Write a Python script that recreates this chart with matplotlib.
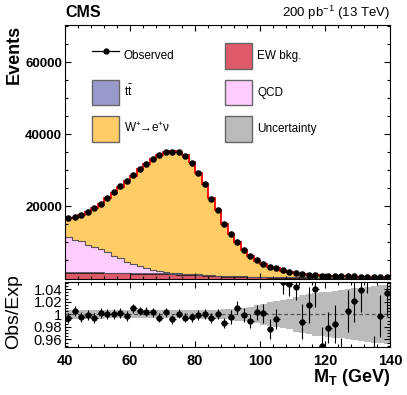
import numpy as np
import matplotlib
matplotlib.use('Agg')
from matplotlib import pyplot as plt
from matplotlib.ticker import MultipleLocator, FixedLocator, FixedFormatter
from matplotlib.patches import Patch
from matplotlib.lines import Line2D

plt.rcParams['font.family'] = ['Liberation Sans', 'DejaVu Sans']
plt.rcParams['mathtext.fontset'] = 'custom'
plt.rcParams['mathtext.rm'] = 'Liberation Sans'
plt.rcParams['mathtext.it'] = 'Liberation Sans:italic'
plt.rcParams['mathtext.bf'] = 'Liberation Sans:bold'

## ---- data (2 GeV bins, 40-140 GeV) ----
edges = np.arange(40, 142, 2)
centers = np.arange(41, 140, 2)

observed = [16780, 16950, 17700, 18440, 19450, 20750, 22330, 23890, 25560, 26950,
            28610, 30470, 31860, 33170, 34170, 35200, 35100, 35100, 34080, 32060,
            29170, 26220, 22140, 18890, 15000, 12330, 10110, 7780, 6300, 5000,
            4000, 3250, 2780, 2330, 1860, 1580, 1300, 1110, 1030, 830,
            763, 689, 595, 593, 562, 530, 514, 419, 419, 413]

ew_bkg = [1650, 1630, 1610, 1590, 1560, 1530, 1500, 1470, 1440, 1410,
          1380, 1350, 1320, 1290, 1250, 1210, 1160, 1100, 1030, 950,
          860, 770, 680, 600, 530, 470, 420, 380, 340, 310,
          280, 260, 240, 220, 200, 185, 170, 160, 150, 140,
          130, 120, 115, 110, 105, 100, 95, 90, 85, 80]

ttbar = [120, 125, 130, 135, 140, 145, 150, 155, 160, 165,
         170, 175, 180, 185, 190, 195, 200, 200, 200, 200,
         200, 200, 200, 200, 195, 190, 185, 180, 175, 170,
         165, 160, 155, 150, 145, 140, 135, 130, 125, 120,
         115, 112, 110, 108, 106, 104, 102, 101, 100, 100]

qcd = [9730, 8800, 8540, 7630, 6910, 6385, 5680, 4675, 4070, 3145,
       2450, 1915, 1390, 945, 700, 455, 300, 200, 130, 90,
       60, 40, 30, 20, 15, 10, 8, 6, 5, 4,
       3, 3, 2, 2, 2, 1, 1, 1, 1, 1,
       1, 1, 1, 1, 1, 1, 1, 1, 1, 1]

w_signal = [5390, 6300, 7490, 9100, 10940, 12660, 14990, 17580, 19820, 22300,
            24340, 26870, 28830, 30640, 32210, 33230, 33720, 33560, 32900, 30975,
            28080, 25180, 21350, 18070, 14460, 11700, 9390, 7220, 5850, 4500,
            3545, 2905, 2405, 1845, 1427, 1189, 1009, 803, 714, 613,
            535, 468, 415, 372, 339, 306, 283, 259, 235, 220]

ratio = [0.9936, 1.0053, 0.9963, 0.9990, 0.9947, 1.0016, 1.0005, 1.0005, 1.0027, 0.9973,
         1.0096, 1.0053, 1.0043, 1.0032, 0.9947, 1.0032, 0.9920, 1.0011, 0.9947, 0.9952,
         0.9990, 1.0011, 0.9947, 1.0000, 0.9867, 0.9963, 1.0107, 0.9990, 0.9893, 1.0032,
         1.0016, 0.9765, 0.9925, 1.0507, 1.0485, 1.0432, 0.9883, 1.0149, 1.0400, 0.9493,
         0.9787, 0.9840, 0.9300, 1.0053, 1.0213, 1.0390, 1.0700, 0.9300, 0.9973, 1.0336]

ratio_err = [0.008, 0.008, 0.008, 0.008, 0.008, 0.008, 0.008, 0.008, 0.008, 0.008,
             0.007, 0.007, 0.007, 0.007, 0.007, 0.007, 0.007, 0.007, 0.007, 0.007,
             0.008, 0.008, 0.008, 0.008, 0.008, 0.011, 0.011, 0.011, 0.011, 0.012,
             0.015, 0.016, 0.016, 0.019, 0.020, 0.021, 0.028, 0.028, 0.029, 0.030,
             0.025, 0.030, 0.033, 0.033, 0.034, 0.035, 0.036, 0.036, 0.033, 0.036]

unc_band = [0.007, 0.007, 0.007, 0.007, 0.007, 0.007, 0.006, 0.006, 0.006, 0.006,
            0.006, 0.006, 0.006, 0.006, 0.006, 0.006, 0.006, 0.006, 0.006, 0.006,
            0.007, 0.007, 0.0075, 0.0075, 0.008, 0.009, 0.010, 0.010, 0.012, 0.014,
            0.017, 0.019, 0.021, 0.022, 0.024, 0.028, 0.030, 0.032, 0.034, 0.035,
            0.036, 0.037, 0.038, 0.040, 0.041, 0.042, 0.044, 0.045, 0.046, 0.047]

c_ew = '#DE5A6A'
c_tt = '#9999CC'
c_qcd = '#FFCCFF'
c_w = '#FFCC66'
c_unc = '#BBBBBB'

W_PX, H_PX = 407, 395
fig = plt.figure(figsize=(W_PX/100., H_PX/100.), dpi=100)
ax = fig.add_axes([65./W_PX, 1-278.5/H_PX, 325./W_PX, 253.5/H_PX])
rax = fig.add_axes([65./W_PX, 1-347./H_PX, 325./W_PX, 65.5/H_PX])

## ---- stacked histograms ----
s1 = np.array(ew_bkg, dtype=float)
s2 = s1 + np.array(ttbar)
s3 = s2 + np.array(qcd)
s4 = s3 + np.array(w_signal)

ax.stairs(s1, edges, baseline=0, fill=True, color=c_ew)
ax.stairs(s2, edges, baseline=s1, fill=True, color=c_tt)
ax.stairs(s3, edges, baseline=s2, fill=True, color=c_qcd)
ax.stairs(s4, edges, baseline=s3, fill=True, color=c_w)
ax.stairs(s1, edges, baseline=None, color='#442222', lw=0.8)
ax.stairs(s2, edges, baseline=None, color='#555566', lw=0.6)
ax.stairs(s3, edges, baseline=None, color='#555555', lw=0.8)
ax.stairs(s4, edges, baseline=None, color='red', lw=1.3)
ax.plot(centers, observed, 'o', color='k', ms=3.7, zorder=5)

ax.set_xlim(40, 140)
ax.set_ylim(0, 70400)
ax.yaxis.set_major_locator(FixedLocator([20000, 40000, 60000]))
ax.yaxis.set_minor_locator(MultipleLocator(5000))
ax.xaxis.set_major_locator(MultipleLocator(20))
ax.xaxis.set_minor_locator(MultipleLocator(4))
ax.tick_params(which='both', direction='in', top=True, right=True, labelbottom=False)
ax.tick_params(which='major', length=4.5, width=0.8)
ax.tick_params(which='minor', length=2.3, width=0.8)
ax.tick_params(axis='y', labelsize=9.5, pad=2)
for lab in ax.get_yticklabels():
    lab.set_fontweight('bold')

## ---- legend ----
handles = [Line2D([], [], color='k', marker='o', ms=3.5, lw=0.9),
           Patch(facecolor=c_tt, edgecolor='#666666', lw=1),
           Patch(facecolor=c_w, edgecolor='#666666', lw=1),
           Patch(facecolor=c_ew, edgecolor='#666666', lw=1),
           Patch(facecolor=c_qcd, edgecolor='#666666', lw=1),
           Patch(facecolor=c_unc, edgecolor='#666666', lw=1)]
labels = ['Observed', r't$\bar{\mathrm{t}}$', r'W$^{+}\!\!\rightarrow\!$e$^{+}$ν',
          'EW bkg.', 'QCD', 'Uncertainty']
ax.legend(handles, labels, ncol=2, loc='upper left',
          bbox_to_anchor=(27./325, (278.5-43)/253.5), frameon=False,
          fontsize=8.5, handlelength=2.3, handleheight=3.0, handletextpad=0.4,
          labelspacing=0.9, columnspacing=4.3, borderpad=0, borderaxespad=0)

## ---- ratio panel ----
lo = 1 - np.array(unc_band)
hi = 1 + np.array(unc_band)
rax.stairs(hi, edges, baseline=lo, fill=True, color=c_unc, lw=0)
rax.axhline(1.0, color='#555555', ls=(0, (3, 2)), lw=0.9)
rax.errorbar(centers, ratio, yerr=ratio_err, xerr=1.0, fmt='o', color='k',
             ms=3.5, elinewidth=0.8, capsize=0)
rax.set_xlim(40, 140)
rax.set_ylim(0.948, 1.052)
rax.xaxis.set_major_locator(MultipleLocator(20))
rax.xaxis.set_minor_locator(MultipleLocator(4))
rax.yaxis.set_major_locator(FixedLocator([0.96, 0.98, 1.0, 1.02, 1.04]))
rax.yaxis.set_major_formatter(FixedFormatter(['0.96', '0.98', '1', '1.02', '1.04']))
rax.yaxis.set_minor_locator(MultipleLocator(0.005))
rax.tick_params(which='both', direction='in', top=True, right=True)
rax.tick_params(which='major', length=4.5, width=0.8)
rax.tick_params(which='minor', length=2.3, width=0.8)
rax.tick_params(axis='y', labelsize=10.5, pad=2)
rax.tick_params(axis='x', labelsize=10.5, pad=5)
for lab in rax.get_xticklabels():
    lab.set_fontweight('bold')

## ---- texts ----
fig.text(65./W_PX, 1-17./H_PX, 'CMS', fontsize=11.5, fontweight='bold', va='baseline')
fig.text(390./W_PX, 1-17./H_PX, r'200 pb$^{-1}$ (13 TeV)', fontsize=9.5,
         ha='right', va='baseline')
fig.text(14./W_PX, 1-25./H_PX, 'Events', fontsize=13, fontweight='bold',
         rotation=90, ha='center', va='top')
fig.text(14./W_PX, 1-312./H_PX, 'Obs/Exp', fontsize=14, rotation=90,
         ha='center', va='center')
fig.text(390./W_PX, 1-378./H_PX, r'$\mathbf{M_{T}}$ (GeV)', fontsize=13,
         fontweight='bold', ha='right', va='center')

fig.savefig('out.png', dpi=100)
